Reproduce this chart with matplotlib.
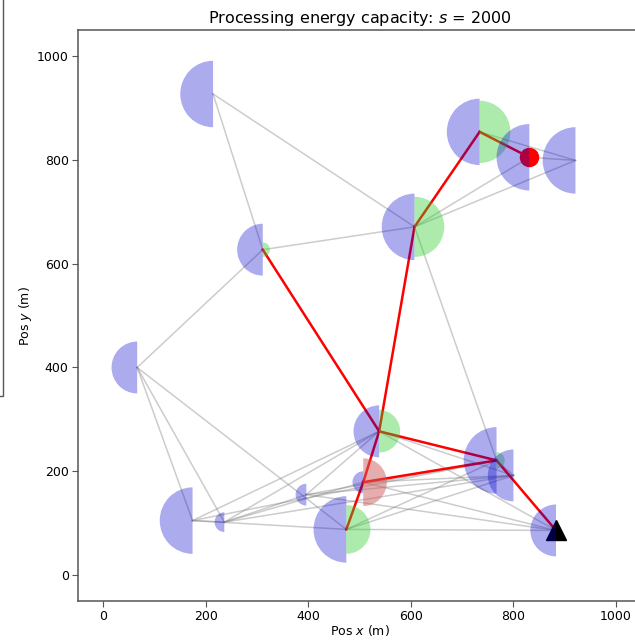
import numpy as np
import matplotlib
matplotlib.use("Agg")
import matplotlib.pyplot as plt
from matplotlib.patches import Wedge, Rectangle

# node positions (m) and disc radii
names = ['A', 'B', 'C', 'D', 'E', 'F', 'G', 'H', 'P', 'I', 'J', 'K', 'L', 'M', 'N', 'O']
pos_x = [214, 311, 66, 174, 236, 396, 474, 538, 507, 767, 800, 883, 607, 734, 831, 921]
pos_y = [927, 627, 400, 105, 102, 155, 88, 277, 179, 221, 192, 86, 671, 854, 805, 799]
blue_r = [64, 50, 50, 64, 19, 21, 64, 50, 21, 64, 50, 50, 64, 64, 64, 64]
green_r = [0, 14, 0, 0, 0, 0, 47, 41, 0, 16, 0, 0, 58, 60, 0, 0]
red_r = [0, 0, 0, 0, 0, 0, 0, 0, 46, 0, 0, 0, 0, 0, 0, 0]

gray_edges = [('A', 'B'), ('A', 'L'), ('B', 'L'), ('B', 'C'), ('C', 'D'), ('C', 'E'),
              ('C', 'G'), ('D', 'E'), ('D', 'H'), ('D', 'G'), ('D', 'I'), ('E', 'H'),
              ('E', 'F'), ('E', 'P'), ('E', 'J'), ('F', 'H'), ('F', 'I'), ('F', 'J'),
              ('F', 'K'), ('G', 'I'), ('G', 'J'), ('G', 'K'), ('H', 'J'), ('H', 'K'),
              ('P', 'K'), ('P', 'J'), ('L', 'I'), ('L', 'N'), ('L', 'O'), ('M', 'O'),
              ('N', 'O'), ('I', 'J')]
red_edges = [('N', 'M'), ('M', 'L'), ('L', 'H'), ('B', 'H'), ('H', 'I'), ('I', 'K'),
             ('P', 'I'), ('G', 'P'), ('P', 'H')]

source = 'N'
sink = 'K'
capacity = 2000

idx = {n: i for i, n in enumerate(names)}

fig = plt.figure(figsize=(6.35, 6.4), dpi=100)
ax = fig.add_axes([0.1224, 0.0609, 0.888, 0.892])

for a, b in gray_edges:
    ax.plot([pos_x[idx[a]], pos_x[idx[b]]], [pos_y[idx[a]], pos_y[idx[b]]],
            color='0.5', alpha=0.4, lw=1.1, zorder=1)
for a, b in red_edges:
    ax.plot([pos_x[idx[a]], pos_x[idx[b]]], [pos_y[idx[a]], pos_y[idx[b]]],
            color='red', lw=1.8, zorder=2)

ax.plot(pos_x[idx[source]], pos_y[idx[source]], 'o', color='red', ms=13, zorder=3)
ax.plot(pos_x[idx[sink]], pos_y[idx[sink]], '^', color='black', ms=15, zorder=3)

for i in range(len(names)):
    c = (pos_x[i], pos_y[i])
    ax.add_patch(Wedge(c, blue_r[i], 90, 270, color='#0000cc', alpha=0.33, lw=0, zorder=4))
    if green_r[i] > 0:
        ax.add_patch(Wedge(c, green_r[i], -90, 90, color='limegreen', alpha=0.4, lw=0, zorder=4))
    if red_r[i] > 0:
        ax.add_patch(Wedge(c, red_r[i], -90, 90, color='indianred', alpha=0.5, lw=0, zorder=4))

ax.set_xlim(-50, 1050)
ax.set_ylim(-50, 1050)
ax.set_xticks([0, 200, 400, 600, 800, 1000])
ax.set_yticks([0, 200, 400, 600, 800, 1000])
ax.tick_params(labelsize=9, color='#555555', length=4, pad=2.5)
for s in ax.spines.values():
    s.set_color('#555555')
    s.set_linewidth(1.1)
ax.set_xlabel('Pos $x$ (m)', fontsize=9, labelpad=0)
ax.set_ylabel('Pos $y$ (m)', fontsize=9, labelpad=2)
ax.set_title('Processing energy capacity: $s$ = ' + str(capacity), fontsize=11.5, pad=5)

# edge of the neighbouring box that is cut off on the left
fig.patches.append(Rectangle((-100, 244), 103, 500, transform=None, fill=False,
                             edgecolor='#555555', lw=1.0))

fig.savefig('out.png', dpi=100)
